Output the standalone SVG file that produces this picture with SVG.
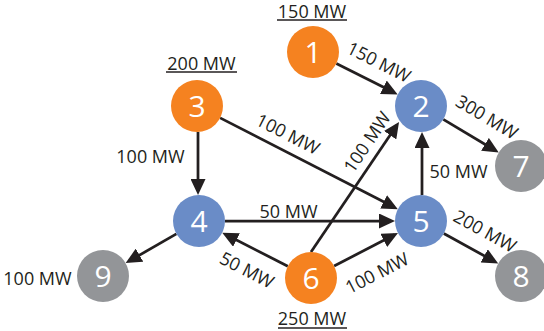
<svg xmlns="http://www.w3.org/2000/svg" width="544" height="331" viewBox="0 0 544 331">
<style>
.lbl{font-family:"Open Sans","Liberation Sans",sans-serif;font-size:18px;fill:#231F20;text-anchor:middle}
.num{font-family:"Open Sans","Liberation Sans",sans-serif;font-size:30px;fill:#FFFFFF;text-anchor:middle}
.gen{fill:#F58220}
.bus{fill:#6A8CC7}
.load{fill:#939598}
.edge{stroke:#231F20;stroke-width:2.75;fill:none;marker-end:url(#ah)}
.ul{stroke:#231F20;stroke-width:1.5}
</style>
<defs>
<marker id="ah" markerUnits="userSpaceOnUse" markerWidth="17" markerHeight="15" refX="12" refY="7.5" orient="auto" viewBox="0 0 17 15">
<path d="M0,0 L16,7.5 L0,15 Z" fill="#231F20"/>
</marker>
</defs>
<rect width="544" height="331" fill="#FFFFFF"/>
<g id="connectors">
<line class="edge" x1="336.3" y1="63.6" x2="394.1" y2="92.6"/>
<line class="edge" x1="443.3" y1="119.4" x2="495.3" y2="150.5"/>
<line class="edge" x1="198" y1="132" x2="198" y2="191"/>
<line class="edge" x1="220.1" y1="117.9" x2="394.3" y2="207.3"/>
<line class="edge" x1="225" y1="221" x2="391" y2="221"/>
<line class="edge" x1="176.4" y1="233.9" x2="129.1" y2="261.1"/>
<line class="edge" x1="287.8" y1="266.2" x2="225.8" y2="234.6"/>
<line class="edge" x1="334.1" y1="266.0" x2="394.4" y2="234.8"/>
<line class="edge" x1="311" y1="252" x2="396.8" y2="125.3"/>
<line class="edge" x1="422" y1="195" x2="422" y2="136"/>
<line class="edge" x1="443.8" y1="233.5" x2="494.7" y2="261.6"/>
</g>
<g id="edge-labels">
<text class="lbl" transform="translate(379,62) rotate(26.6)" y="6.5">150 MW</text>
<text class="lbl" transform="translate(487,117) rotate(31)" y="6.5">300 MW</text>
<text class="lbl" transform="translate(485,231) rotate(28.8)" y="6.5">200 MW</text>
<text class="lbl" transform="translate(288,134) rotate(27)" y="6.5">100 MW</text>
<text class="lbl" transform="translate(367,142) rotate(-56)" y="6.5">100 MW</text>
<text class="lbl" transform="translate(247,270) rotate(27)" y="6.5">50 MW</text>
<text class="lbl" transform="translate(377,273) rotate(-27)" y="6.5">100 MW</text>
<text class="lbl" x="150.5" y="163">100 MW</text>
<text class="lbl" x="288.5" y="217.5">50 MW</text>
<text class="lbl" x="458.5" y="178">50 MW</text>
<text class="lbl" x="37.5" y="285">100 MW</text>
</g>
<g id="node1">
<text class="lbl" x="312" y="17.5">150 MW</text>
<line class="ul" x1="277" y1="20" x2="347" y2="20"/>
<circle class="gen" cx="313" cy="52" r="26"/>
<text class="num" x="313" y="63">1</text>
</g>
<g id="node2">
<circle class="bus" cx="421" cy="106" r="26"/>
<text class="num" x="421" y="117">2</text>
</g>
<g id="node3">
<text class="lbl" x="201.5" y="69.5">200 MW</text>
<line class="ul" x1="166" y1="72" x2="237" y2="72"/>
<circle class="gen" cx="197" cy="106" r="26"/>
<text class="num" x="197" y="117">3</text>
</g>
<g id="node4">
<circle class="bus" cx="199" cy="221" r="26"/>
<text class="num" x="199" y="232">4</text>
</g>
<g id="node5">
<circle class="bus" cx="421" cy="221" r="26"/>
<text class="num" x="421" y="232">5</text>
</g>
<g id="node6">
<circle class="gen" cx="311" cy="278" r="26"/>
<text class="num" x="311" y="289">6</text>
<text class="lbl" x="312" y="325">250 MW</text>
<line class="ul" x1="278" y1="328" x2="347" y2="328"/>
</g>
<g id="node7">
<circle class="load" cx="521" cy="166" r="26"/>
<text class="num" x="521" y="177">7</text>
</g>
<g id="node8">
<circle class="load" cx="521" cy="276" r="26"/>
<text class="num" x="521" y="287">8</text>
</g>
<g id="node9">
<circle class="load" cx="103" cy="276" r="26"/>
<text class="num" x="103" y="287">9</text>
</g>
</svg>
